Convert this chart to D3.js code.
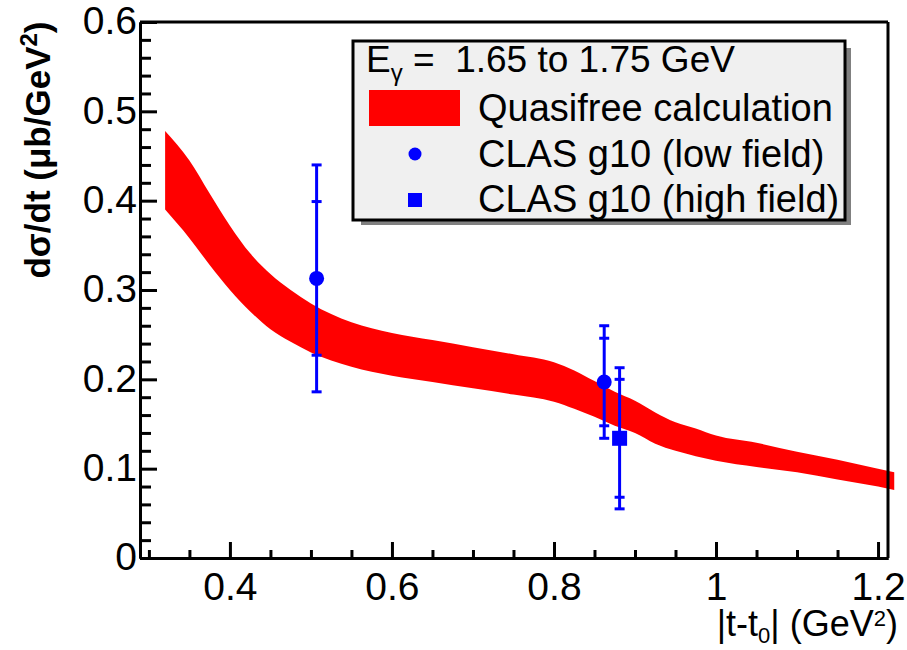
<!DOCTYPE html>
<meta charset="utf-8">
<title>dsigma/dt vs |t-t0|</title>
<style>
body { margin: 0; background: #fff; }
text { font-family: "Liberation Sans", Arial, sans-serif; fill: #000; }
.axis path, .axis line { stroke: #000; stroke-width: 3px; }
.axis text { font-size: 39px; }
</style>
<body>
<script src="https://d3js.org/d3.v7.min.js"></script>
<script>

// quasifree calculation band (upper / lower edge)
var bandT     = [0.32, 0.35, 0.375, 0.40, 0.425, 0.45, 0.475, 0.50, 0.55, 0.60, 0.65, 0.70, 0.75, 0.80, 0.825, 0.85, 0.875, 0.90, 0.925, 0.95, 0.975, 1.00, 1.05, 1.10, 1.15, 1.20, 1.22];
var bandHigh  = [0.478, 0.445, 0.408, 0.372, 0.341, 0.318, 0.300, 0.285, 0.264, 0.252, 0.244, 0.236, 0.228, 0.219, 0.210, 0.198, 0.186, 0.176, 0.163, 0.152, 0.145, 0.137, 0.129, 0.119, 0.110, 0.100, 0.096];
var bandLow   = [0.390, 0.358, 0.328, 0.300, 0.276, 0.256, 0.242, 0.230, 0.214, 0.204, 0.197, 0.190, 0.183, 0.175, 0.167, 0.158, 0.148, 0.140, 0.128, 0.120, 0.114, 0.109, 0.102, 0.096, 0.088, 0.080, 0.076];

// CLAS g10 low field
var lowT     = [0.507, 0.862];
var lowY     = [0.313, 0.197];
var lowStat  = [0.086, 0.049];
var lowTot   = [0.127, 0.063];

// CLAS g10 high field
var highT    = [0.881];
var highY    = [0.134];
var highStat = [0.066];
var highTot  = [0.079];

var xTicks = [0.4, 0.6, 0.8, 1.0, 1.2];
var xTickLabels = ["0.4", "0.6", "0.8", "1", "1.2"];
var yTicks = [0, 0.1, 0.2, 0.3, 0.4, 0.5, 0.6];
var yTickLabels = ["0", "0.1", "0.2", "0.3", "0.4", "0.5", "0.6"];

var width = 907, height = 650;
var pLeft = 140, pRight = 888, pTop = 22, pBottom = 558;

var svg = d3.select("body").append("svg")
    .attr("width", width)
    .attr("height", height);

var x = d3.scaleLinear().domain([0.289, 1.2123]).range([pLeft, pRight]);
var y = d3.scaleLinear().domain([0, 0.6]).range([pBottom, pTop]);

// band
var band = bandT.map(function(t, i) { return {t: t, hi: bandHigh[i], lo: bandLow[i]}; });
svg.append("path")
    .datum(band)
    .attr("fill", "#ff0000")
    .attr("d", d3.area()
      .curve(d3.curveMonotoneX)
      .x(function(d) { return x(d.t); })
      .y0(function(d) { return y(d.lo); })
      .y1(function(d) { return y(d.hi); }));

// frame top / right
svg.append("line").attr("x1", pLeft).attr("x2", pRight).attr("y1", pTop).attr("y2", pTop)
    .attr("stroke", "#000").attr("stroke-width", 3);
svg.append("line").attr("x1", pRight).attr("x2", pRight).attr("y1", pTop).attr("y2", pBottom)
    .attr("stroke", "#000").attr("stroke-width", 3);

// minor ticks
var xMinor = d3.range(0.30, 1.2101, 0.05).filter(function(v) {
  return !xTicks.some(function(m) { return Math.abs(m - v) < 1e-6; });
});
var yMinor = d3.range(0.02, 0.6, 0.02).filter(function(v) {
  return !yTicks.some(function(m) { return Math.abs(m - v) < 1e-6; });
});

svg.append("g").attr("class", "axis")
    .attr("transform", "translate(0," + pBottom + ")")
    .call(d3.axisBottom(x).tickValues(xMinor).tickSize(-8).tickSizeOuter(0).tickFormat(""));
svg.append("g").attr("class", "axis")
    .attr("transform", "translate(" + pLeft + ",0)")
    .call(d3.axisLeft(y).tickValues(yMinor).tickSize(-11).tickSizeOuter(0).tickFormat(""));

var xAxis = svg.append("g").attr("class", "axis")
    .attr("transform", "translate(0," + pBottom + ")")
    .call(d3.axisBottom(x).tickValues(xTicks).tickSize(-16).tickSizeOuter(0).tickPadding(14)
      .tickFormat(function(d, i) { return xTickLabels[i]; }));
xAxis.selectAll("text").attr("dy", "0.71em");

var yAxis = svg.append("g").attr("class", "axis")
    .attr("transform", "translate(" + pLeft + ",0)")
    .call(d3.axisLeft(y).tickValues(yTicks).tickSize(-17).tickSizeOuter(0).tickPadding(3)
      .tickFormat(function(d, i) { return yTickLabels[i]; }));
yAxis.selectAll("text").attr("dy", "0.3em");

// y title
var yt = svg.append("text")
    .attr("transform", "translate(50,150) rotate(-90)")
    .attr("text-anchor", "middle")
    .style("font-size", "35px")
    .style("font-weight", "bold");
yt.append("tspan").text("d\u03c3/dt (\u03bcb/GeV");
yt.append("tspan").attr("dy", -13).style("font-size", "24px").text("2");
yt.append("tspan").attr("dy", 13).text(")");

// x title
var xt = svg.append("text")
    .attr("x", 898).attr("y", 636)
    .attr("text-anchor", "end")
    .style("font-size", "36px");
xt.append("tspan").text("|t-t");
xt.append("tspan").attr("dy", 7).style("font-size", "22px").text("0");
xt.append("tspan").attr("dy", -7).text("| (GeV");
xt.append("tspan").attr("dy", -10).style("font-size", "22px").text("2");
xt.append("tspan").attr("dy", 10).text(")");

// error bars
var blue = "#0000ff";
function errorBars(ts, ys, stat, tot) {
  ts.forEach(function(t, i) {
    var cx = x(t);
    svg.append("line")
        .attr("x1", cx).attr("x2", cx)
        .attr("y1", y(ys[i] + tot[i])).attr("y2", y(ys[i] - tot[i]))
        .attr("stroke", blue).attr("stroke-width", 3);
    [ys[i] + tot[i], ys[i] - tot[i], ys[i] + stat[i], ys[i] - stat[i]].forEach(function(v) {
      svg.append("line")
          .attr("x1", cx - 5).attr("x2", cx + 5)
          .attr("y1", y(v)).attr("y2", y(v))
          .attr("stroke", blue).attr("stroke-width", 3);
    });
  });
}
errorBars(lowT, lowY, lowStat, lowTot);
errorBars(highT, highY, highStat, highTot);

svg.selectAll(".low").data(lowT).enter().append("circle")
    .attr("cx", function(d) { return x(d); })
    .attr("cy", function(d, i) { return y(lowY[i]); })
    .attr("r", 7.5)
    .attr("fill", blue);

svg.selectAll(".high").data(highT).enter().append("rect")
    .attr("x", function(d) { return x(d) - 7.5; })
    .attr("y", function(d, i) { return y(highY[i]) - 7.5; })
    .attr("width", 15).attr("height", 15)
    .attr("fill", blue);

// legend
var lg = svg.append("g");
lg.append("rect").attr("x", 361).attr("y", 48).attr("width", 490).attr("height", 177).attr("fill", "#808080");
lg.append("rect").attr("x", 353).attr("y", 41).attr("width", 492).attr("height", 179)
    .attr("fill", "#f0f0f0").attr("stroke", "#000").attr("stroke-width", 3);

var lt = lg.append("text").attr("x", 366).attr("y", 72).style("font-size", "37px")
    .attr("xml:space", "preserve");
lt.append("tspan").text("E");
lt.append("tspan").attr("dy", 9).style("font-size", "24px").text("\u03b3");
lt.append("tspan").attr("dy", -9).text(" =  1.65 to 1.75 GeV");

lg.append("rect").attr("x", 369).attr("y", 90).attr("width", 91).attr("height", 36).attr("fill", "#ff0000");
lg.append("circle").attr("cx", 415).attr("cy", 154).attr("r", 6.5).attr("fill", blue);
lg.append("rect").attr("x", 408).attr("y", 193).attr("width", 14).attr("height", 14).attr("fill", blue);

var labels = ["Quasifree calculation", "CLAS g10 (low field)", "CLAS g10 (high field)"];
var baselines = [121, 167, 212];
lg.selectAll(".lab").data(labels).enter().append("text")
    .attr("x", 478)
    .attr("y", function(d, i) { return baselines[i]; })
    .style("font-size", "38px")
    .text(function(d) { return d; });

</script>
</body>
</html>
